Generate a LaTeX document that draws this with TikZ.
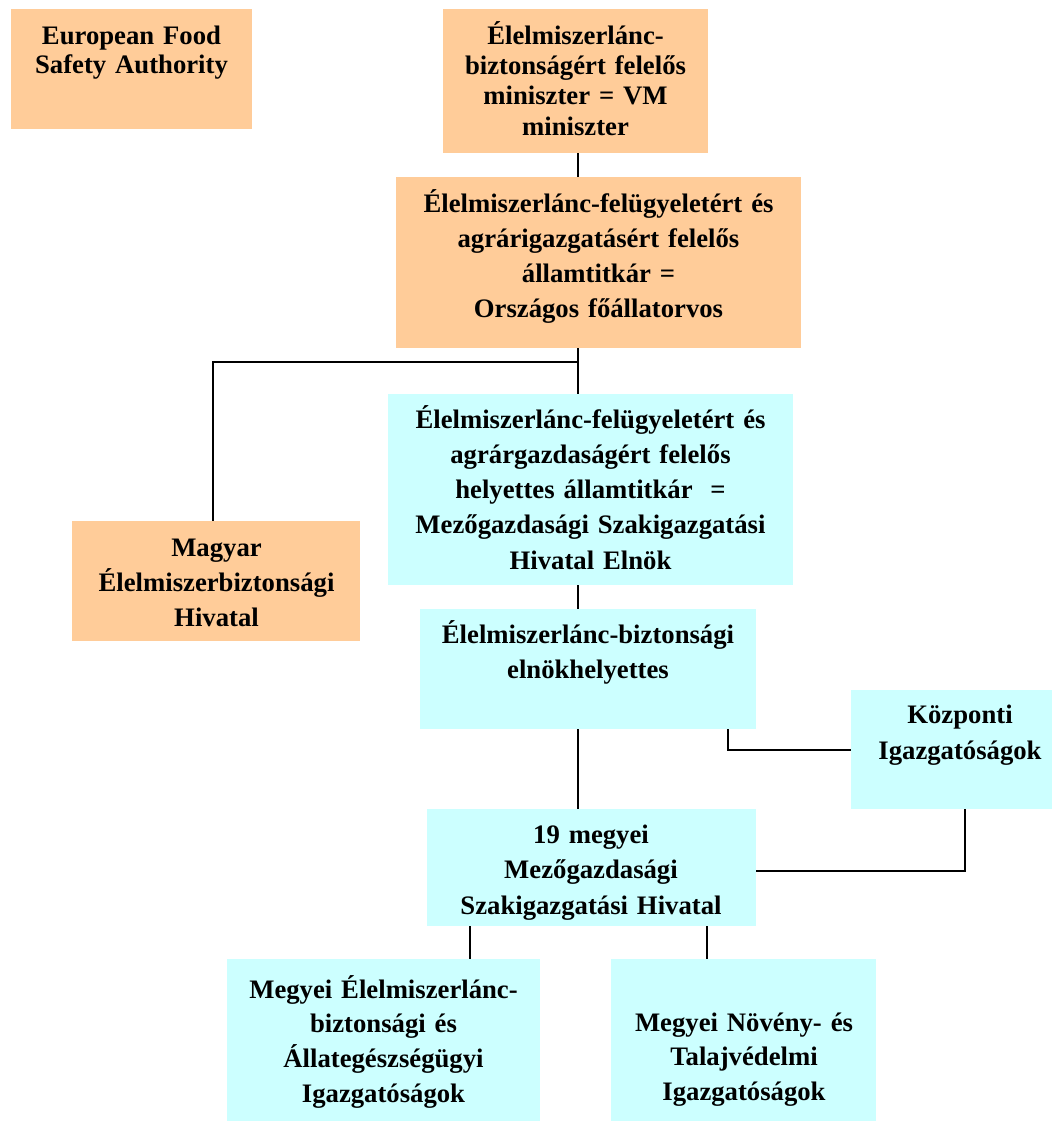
\documentclass[tikz,border=0pt]{standalone}
\usepackage{fontspec}
\setmainfont{Liberation Serif}
\definecolor{boxorange}{HTML}{FFCC99}
\definecolor{boxcyan}{HTML}{CCFFFF}
\begin{document}
\begin{tikzpicture}[x=1pt,y=-1pt,
  box/.style={draw=none, inner sep=0pt, outer sep=0pt},
  obox/.style={box, fill=boxorange},
  cbox/.style={box, fill=boxcyan},
  lbl/.style={inner sep=0pt, outer sep=0pt, anchor=base, align=center,
              font=\bfseries\fontsize{26.7}{#1}\selectfont},
  lbl/.default=35,
  link/.style={line width=1.6pt, draw=black}]
\useasboundingbox (0,0) rectangle (1052,1122);

% boxes
\node[obox, minimum width=241pt, minimum height=120pt] (efsa) at (131.5,69) {};
\node[lbl=29.5, text width=241pt] (efsaT) at (131.5,44) {European Food\\Safety Authority};

\node[obox, minimum width=265pt, minimum height=144pt] (min) at (575.5,81) {};
\node[lbl=30.4, text width=265pt] (minT) at (575.5,44) {Élelmiszerlánc-\\biztonságért felelős\\miniszter = VM\\miniszter};

\node[obox, minimum width=405pt, minimum height=171pt] (allam) at (598.5,262.5) {};
\node[lbl=35, text width=405pt] (allamT) at (598.5,212) {Élelmiszerlánc-felügyeletért és\\agrárigazgatásért felelős\\államtitkár =\\Országos főállatorvos};

\node[cbox, minimum width=405pt, minimum height=191pt] (helyettes) at (590.5,489.5) {};
\node[lbl=35.3, text width=405pt] (helyettesT) at (590.5,428) {Élelmiszerlánc-felügyeletért és\\agrárgazdaságért felelős\\helyettes államtitkár~ =\\Mezőgazdasági Szakigazgatási\\Hivatal Elnök};

\node[obox, minimum width=288pt, minimum height=120pt] (mebih) at (216,581) {};
\node[lbl=35, text width=288pt] (mebihT) at (216.5,556) {Magyar\\Élelmiszerbiztonsági\\Hivatal};

\node[cbox, minimum width=336pt, minimum height=120pt] (elnh) at (588,669) {};
\node[lbl=35, text width=336pt] (elnhT) at (588,643) {Élelmiszerlánc-biztonsági\\elnökhelyettes};

\node[cbox, minimum width=201pt, minimum height=119pt] (kozp) at (951.5,749.5) {};
\node[lbl=36, text width=201pt] (kozpT) at (960,723) {Központi\\Igazgatóságok};

\node[cbox, minimum width=329pt, minimum height=117pt] (megyei) at (591.5,867.5) {};
\node[lbl=35.5, text width=329pt] (megyeiT) at (591,843) {19 megyei\\Mezőgazdasági\\Szakigazgatási Hivatal};

\node[cbox, minimum width=313pt, minimum height=162pt] (megl) at (383.5,1040) {};
\node[lbl=34.7, text width=313pt] (meglT) at (383.5,998) {Megyei Élelmiszerlánc-\\biztonsági és\\Állategészségügyi\\Igazgatóságok};

\node[cbox, minimum width=265pt, minimum height=162pt] (megr) at (743.5,1040) {};
\node[lbl=34.5, text width=265pt] (megrT) at (744,1031) {Megyei Növény- és\\Talajvédelmi\\Igazgatóságok};

% connectors
\coordinate (spine) at (578,362);
\coordinate (mlink) at (213,362);
\coordinate (ek) at (728,750);
\coordinate (km) at (965,871);
\coordinate (bl) at (470,0);
\coordinate (br) at (707,0);
\draw[link] (min.south -| spine) -- (allam.north -| spine);
\draw[link] (allam.south -| spine) -- (helyettes.north -| spine);
\draw[link] (spine) -- (mlink) -- (mlink |- mebih.north);
\draw[link] (helyettes.south -| spine) -- (elnh.north -| spine);
\draw[link] (elnh.south -| spine) -- (megyei.north -| spine);
\draw[link] (elnh.south -| ek) -- (ek) -- (ek -| kozp.west);
\draw[link] (kozp.south -| km) -- (km) -- (km -| megyei.east);
\draw[link] (megyei.south -| bl) -- (megl.north -| bl);
\draw[link] (megyei.south -| br) -- (megr.north -| br);
\end{tikzpicture}
\end{document}
